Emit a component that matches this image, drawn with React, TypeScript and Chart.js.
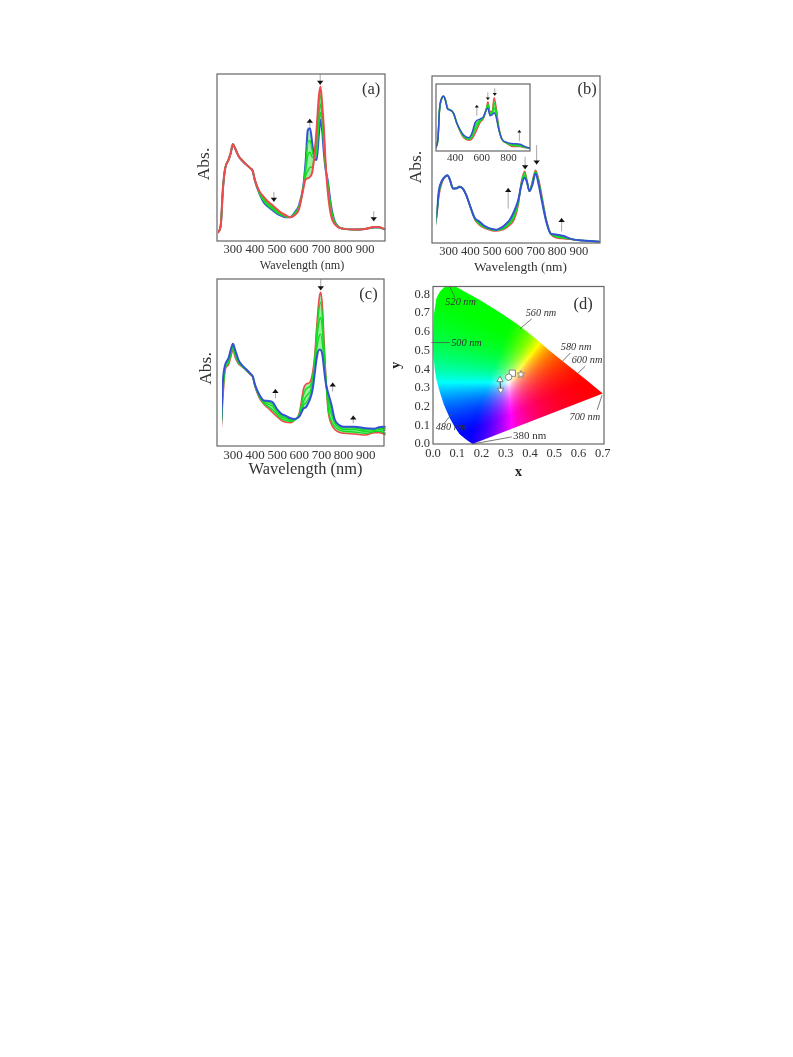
import React, { useEffect, useRef } from "react";
import Chart from "chart.js/auto";

const SERIF = "'Liberation Serif', serif";

// ---------- panel (a) ----------
const A_NM = [230,245,255,265,280,290,300,310,325,340,360,380,390,400,420,440,460,480,500,520,540,560,580,600,620,630,640,650,660,670,680,690,697,705,712,720,730,745,760,780,800,850,900,940,960,990];
const A_RED = [24,47,157,217,242,262,289,277,255,242,229,217,209,182,149,132,117,107,95,84,77,71,77,95,157,184,187,192,205,257,337,432,462,410,345,240,150,77,52,40,37,34,36,42,42,35];
const A_G1 = [24,47,157,217,242,262,289,277,255,242,229,217,209,182,147,128,113,102,90,81,75,71,79,98,160,194,210,220,222,255,320,410,435,390,330,235,160,85,55,41,37,34,36,41,41,35];
const A_G2 = [24,47,157,217,242,262,289,277,255,242,229,217,209,182,145,123,109,98,87,79,73,71,81,101,162,208,255,265,250,252,290,375,410,370,310,230,170,95,58,42,37,34,36,41,41,35];
const A_G3 = [24,47,157,217,242,262,289,277,255,242,229,217,209,182,143,119,105,95,84,77,72,71,83,104,165,222,295,300,270,250,265,345,385,350,290,222,176,100,60,42,37,34,36,40,40,35];
const A_BLUE = [24,47,157,217,242,262,289,277,255,242,229,217,209,180,142,115,102,92,82,75,71,71,85,107,167,237,332,337,292,247,242,317,362,330,270,217,182,107,62,42,37,34,36,40,40,35];
const A_ARROWS = [[486,147,117],[649,342,365],[696,499,467],[939,89,59]];

// ---------- panel (b) ----------
const B_NM = [225,235,245,255,270,285,295,305,320,335,350,365,380,400,420,440,460,480,500,520,540,560,580,600,620,635,650,660,672,685,700,715,730,750,770,800,830,860,900,950,995];
const B_RED = [5,38,83,143,183,198,201,190,163,165,170,163,145,108,71,55,46,41,37,36,38,43,53,68,113,183,215,188,155,183,218,188,138,68,28,15,13,11,8,6,4];
const B_G1 = [5,39,86,149,185,199,202,190,163,164,169,163,145,108,72,58,48,43,39,38,40,47,58,76,118,180,210,186,155,180,214,182,133,66,28,18,15,12,8,6,4];
const B_G2 = [5,41,90,154,187,200,202,190,163,164,168,163,145,108,74,62,51,45,41,39,43,51,63,85,123,176,202,184,155,176,211,177,128,64,28,22,18,13,8,6,4];
const B_BLUE = [5,43,93,158,188,200,203,190,163,163,168,163,145,108,75,65,53,46,42,40,45,55,68,93,128,173,195,183,155,173,208,173,123,63,28,25,21,13,8,6,4];
const B_ARROWS = [[574,103,165],[652,258,221],[705,293,235],[820,35,75]];

// ---------- inset of panel (b) ----------
const I_NM = [255,270,282,297,312,325,342,362,387,412,437,462,500,525,550,587,612,632,645,662,677,692,707,725,750,787,837,887,925,962];
const I_RED = [10,38,123,155,163,155,130,123,113,83,58,40,32,36,53,86,98,123,148,118,118,160,133,78,36,23,13,13,10,8];
const I_G1 = [10,38,125,156,164,154,128,123,113,83,60,43,35,42,64,90,100,123,141,113,114,145,122,73,36,24,16,15,11,8];
const I_G2 = [10,38,127,157,165,153,127,123,113,83,62,46,38,48,76,93,102,123,134,110,111,130,112,70,36,25,19,18,12,8];
const I_BLUE = [10,38,128,158,165,153,126,123,113,83,63,48,40,53,86,96,103,123,128,106,108,115,103,68,36,26,22,20,13,8];
const I_ARROWS = [[562,106,138],[645,176,153],[697,188,166],[882,30,63]];

// ---------- panel (c) ----------
const C_NM = A_NM;
const C_RED = [28,40,148,228,243,266,288,266,246,238,226,213,206,178,143,125,113,100,88,76,71,70,78,98,173,185,188,193,218,273,368,443,460,413,313,208,108,66,50,41,38,36,33,40,40,34];
const C_G1 = [32,44,160,232,248,272,293,272,249,239,227,214,207,179,146,128,118,108,94,81,76,73,78,95,155,170,175,180,205,262,350,415,430,385,295,205,115,75,58,48,44,42,38,43,44,38];
const C_G2 = [36,50,175,237,254,279,298,279,253,241,228,215,207,181,149,132,125,118,101,87,82,77,79,92,135,148,155,165,192,248,325,375,385,345,270,198,130,95,68,55,50,49,44,46,49,47];
const C_G3 = [40,55,188,240,259,284,303,284,256,242,229,216,208,182,151,135,131,125,106,92,86,80,80,90,123,130,140,152,180,232,295,330,335,305,250,192,145,110,75,60,55,54,49,50,53,53];
const C_BLUE = [43,58,198,243,263,288,306,288,258,243,230,216,208,183,153,136,135,131,110,96,90,83,81,88,113,116,128,143,168,218,268,288,288,270,230,188,160,125,80,63,58,58,53,52,56,58];
const C_ARROWS = [[492,143,171],[697,500,466],[751,163,190],[844,68,91]];

const MAIN_TICKS = [300,400,500,600,700,800,900];
const INSET_TICKS = [400,600,800];

// ---------- panel (d) ----------
const LOCUS_X = [.163,.135,.11,.09,.069,.045,.028,.015,.007,.002,.001,.002,.004,.014,.028,.045,.07,.095,.117,.2,.276,.35,.414,.48,.552,.63,.70,.163];
const LOCUS_Y = [0,.025,.052,.09,.139,.21,.278,.34,.4,.48,.55,.62,.696,.78,.815,.838,.848,.842,.826,.765,.704,.64,.574,.5,.426,.345,.27,0];
const D_XTICKS = [0,.1,.2,.3,.4,.5,.6,.7];
const D_YTICKS = [0,.1,.2,.3,.4,.5,.6,.7,.8];
const WL_LABELS = ["520 nm","560 nm","580 nm","600 nm","500 nm","480 nm","700 nm"];
const WL_LABEL_X = [.114,.445,.59,.635,.138,.074,.626];
const WL_LABEL_Y = [.76,.70,.516,.449,.54,.087,.145];
const LEADERS = [[.069,.843,.09,.786],[.359,.617,.407,.67],[.534,.443,.566,.487],[.594,.374,.628,.417],[-.007,.543,.069,.543],[.076,.16,.048,.113],[.697,.261,.677,.183],[.163,0,.325,.038]];
const POINT_X = { star: .362, square: .327, circle: .312, up: .276, down: .279 };
const POINT_Y = { star: .374, square: .379, circle: .358, up: .343, down: .289 };

const RED = "#ee4a4f";
const BLUE = "#3650d6";
const GREEN = "#12dc22";
const FILL = "rgba(70,232,80,0.55)";

function arrowPlugin(arrows: number[][], head: number, label: any, shift: number[]) {
  return {
    id: "marks",
    afterLayout(chart: any) {
      chart.scales.x.left += shift[0];
      chart.scales.x.right += shift[0];
      chart.scales.y.top += shift[1];
      chart.scales.y.bottom += shift[1];
    },
    afterDatasetsDraw(chart: any) {
      const { ctx, scales, chartArea: a } = chart;
      ctx.save();
      for (const [nm, from, to] of arrows) {
        const x = scales.x.getPixelForValue(nm);
        const y1 = scales.y.getPixelForValue(from);
        const y2 = scales.y.getPixelForValue(to);
        const dir = y2 > y1 ? 1 : -1;
        ctx.strokeStyle = "#a8a8a8";
        ctx.lineWidth = 1;
        ctx.beginPath();
        ctx.moveTo(x, y1);
        ctx.lineTo(x, y2);
        ctx.stroke();
        ctx.fillStyle = "#111";
        ctx.beginPath();
        ctx.moveTo(x, y2);
        ctx.lineTo(x - head * 0.8, y2 - dir * head);
        ctx.lineTo(x + head * 0.8, y2 - dir * head);
        ctx.closePath();
        ctx.fill();
      }
      if (label) {
        ctx.fillStyle = "#333";
        ctx.font = `16.5px ${SERIF}`;
        ctx.textAlign = "center";
        ctx.textBaseline = "middle";
        ctx.fillText(label.text, scales.x.getPixelForValue(label.x), scales.y.getPixelForValue(label.y));
      }
      ctx.strokeStyle = "#666";
      ctx.lineWidth = 1.2;
      ctx.strokeRect(a.left, a.top, a.right - a.left, a.bottom - a.top);
      ctx.restore();
    },
  };
}

function pts(xs: number[], ys: number[]) {
  return xs.map((x, i) => ({ x, y: ys[i] }));
}

function spectrum(canvas: HTMLCanvasElement, c: any) {
  const LM = 40, RM = 8, TM = 6, BM = 36;
  const w = c.box[2] - c.box[0], h = c.box[3] - c.box[1];
  canvas.width = Math.round(w + LM + RM);
  canvas.height = Math.round(h + TM + BM);
  canvas.style.left = c.box[0] - LM + "px";
  canvas.style.top = c.box[1] - TM + "px";
  const lines = c.order.map(([vals, color, lw]: any) => ({
    data: pts(c.nm, vals),
    borderColor: color,
    borderWidth: lw,
    showLine: true,
    pointRadius: 0,
    cubicInterpolationMode: "monotone",
    fill: false,
  }));
  lines[lines.length - 1].fill = { target: 0, above: FILL, below: FILL };
  const xTitle = c.xTitle;
  return new Chart(canvas, {
    type: "scatter",
    data: { datasets: lines },
    plugins: [arrowPlugin(c.arrows, c.head, c.label, c.shift || [0, 0])],
    options: {
      animation: false,
      responsive: false,
      devicePixelRatio: 1,
      layout: { padding: { top: TM, right: RM, left: 0, bottom: 0 } },
      plugins: { legend: { display: false }, tooltip: { enabled: false } },
      scales: {
        x: {
          type: "linear",
          min: c.xRange[0],
          max: c.xRange[1],
          afterBuildTicks: (s: any) => { s.ticks = c.ticks.map((value: number) => ({ value })); },
          afterFit: (s: any) => { s.height = BM; },
          grid: { display: false, drawTicks: false },
          border: { display: false },
          ticks: { color: "#333", padding: c.tickPad, maxRotation: 0, autoSkip: false, font: { family: SERIF, size: c.tickSize } },
          title: xTitle
            ? { display: true, text: xTitle.text, color: "#333", font: { family: SERIF, size: xTitle.size, weight: "normal" }, padding: { top: 0, bottom: BM - xTitle.dist - xTitle.size * 0.6 } }
            : { display: false },
        },
        y: {
          min: 0,
          max: c.yMax,
          afterFit: (s: any) => { s.width = LM; },
          grid: { display: false, drawTicks: false },
          border: { display: false },
          ticks: { display: false },
          title: c.yTitleDist
            ? { display: true, text: "Abs.", color: "#333", font: { family: SERIF, size: 17.5, weight: "normal" }, padding: { top: LM - c.yTitleDist - 10.5, bottom: 0 } }
            : { display: false },
        },
      },
    } as any,
  });
}

function chroma(x: number, y: number) {
  if (y <= 0) return [0, 0, 255];
  const X = x / y, Y = 1, Z = (1 - x - y) / y;
  let r = 3.2406 * X - 1.5372 * Y - 0.4986 * Z;
  let g = -0.9689 * X + 1.8758 * Y + 0.0415 * Z;
  let b = 0.0557 * X - 0.204 * Y + 1.057 * Z;
  r = Math.max(r, 0); g = Math.max(g, 0); b = Math.max(b, 0);
  const m = Math.max(r, g, b, 1e-6);
  const f = (v: number) => 255 * Math.pow(v / m, 1.2);
  return [f(r), f(g), f(b)];
}

function starImage() {
  const c = document.createElement("canvas");
  c.width = 10; c.height = 10;
  const ctx = c.getContext("2d")!;
  ctx.beginPath();
  for (let i = 0; i < 10; i++) {
    const r = i % 2 ? 1.7 : 4;
    const t = -Math.PI / 2 + (i * Math.PI) / 5;
    ctx.lineTo(5 + r * Math.cos(t), 5.3 + r * Math.sin(t));
  }
  ctx.closePath();
  ctx.fillStyle = "#fff";
  ctx.fill();
  ctx.strokeStyle = "#777";
  ctx.lineWidth = 0.8;
  ctx.stroke();
  return c;
}

const gamutPlugin = {
  id: "gamut",
  beforeDatasetsDraw(chart: any) {
    const { ctx, scales, chartArea: a } = chart;
    const w = Math.ceil(a.right - a.left), h = Math.ceil(a.bottom - a.top);
    const off = document.createElement("canvas");
    off.width = w; off.height = h;
    const octx = off.getContext("2d")!;
    const img = octx.createImageData(w, h);
    for (let j = 0; j < h; j++) {
      const yv = scales.y.getValueForPixel(a.top + j + 0.5);
      for (let i = 0; i < w; i++) {
        const xv = scales.x.getValueForPixel(a.left + i + 0.5);
        const [r, g, b] = chroma(xv, yv);
        const k = (j * w + i) * 4;
        img.data[k] = r; img.data[k + 1] = g; img.data[k + 2] = b; img.data[k + 3] = 255;
      }
    }
    octx.putImageData(img, 0, 0);
    ctx.save();
    ctx.beginPath();
    ctx.rect(a.left, a.top, a.right - a.left, a.bottom - a.top);
    ctx.clip();
    ctx.beginPath();
    LOCUS_X.forEach((x, i) => {
      ctx.lineTo(scales.x.getPixelForValue(x), scales.y.getPixelForValue(LOCUS_Y[i]));
    });
    ctx.closePath();
    ctx.clip();
    ctx.drawImage(off, a.left, a.top);
    ctx.restore();
  },
  afterDatasetsDraw(chart: any) {
    const { ctx, scales, chartArea: a } = chart;
    const px = (v: number) => scales.x.getPixelForValue(v);
    const py = (v: number) => scales.y.getPixelForValue(v);
    ctx.save();
    ctx.strokeStyle = "#555";
    ctx.lineWidth = 0.8;
    for (const [x1, y1, x2, y2] of LEADERS) {
      ctx.beginPath();
      ctx.moveTo(px(x1), py(y1));
      ctx.lineTo(px(x2), py(y2));
      ctx.stroke();
    }
    ctx.fillStyle = "#333";
    ctx.textAlign = "center";
    ctx.textBaseline = "middle";
    ctx.font = `italic 10.3px ${SERIF}`;
    WL_LABELS.forEach((t, i) => ctx.fillText(t, px(WL_LABEL_X[i]), py(WL_LABEL_Y[i])));
    ctx.font = `11px ${SERIF}`;
    ctx.fillText("380 nm", px(.398), py(.04));
    ctx.font = `16.5px ${SERIF}`;
    ctx.fillText("(d)", px(.619), py(.744));
    ctx.strokeStyle = "#666";
    ctx.lineWidth = 1.2;
    ctx.strokeRect(a.left, a.top, a.right - a.left, a.bottom - a.top);
    ctx.restore();
  },
};

function gamut(canvas: HTMLCanvasElement) {
  const box = [433.3, 281.7, 604, 443.3];
  const LM = 46, RM = 10, TM = 6, BM = 38;
  canvas.width = Math.round(box[2] - box[0] + LM + RM);
  canvas.height = Math.round(box[3] - box[1] + TM + BM);
  canvas.style.left = box[0] - LM + "px";
  canvas.style.top = box[1] - TM + "px";
  const marker = (k: "square" | "circle" | "up" | "down" | "star", style: any, radius: number, rotation = 0) => ({
    data: [{ x: POINT_X[k], y: POINT_Y[k] }],
    pointStyle: style,
    rotation,
    pointRadius: radius,
    pointBackgroundColor: "#fff",
    pointBorderColor: "#777",
    pointBorderWidth: 0.9,
  });
  return new Chart(canvas, {
    type: "scatter",
    plugins: [gamutPlugin],
    data: {
      datasets: [
        marker("star", starImage(), 4),
        marker("circle", "circle", 3.2),
        marker("square", "rect", 4.4),
        marker("up", "triangle", 3.6),
        marker("down", "triangle", 3.6, 180),
        {
          data: [{ x: POINT_X.up, y: POINT_Y.up }, { x: POINT_X.down, y: POINT_Y.down }],
          showLine: true,
          borderColor: "#444",
          borderWidth: 1,
          pointRadius: 0,
        },
      ],
    },
    options: {
      animation: false,
      responsive: false,
      devicePixelRatio: 1,
      layout: { padding: { top: TM, right: RM, left: 0, bottom: 0 } },
      plugins: { legend: { display: false }, tooltip: { enabled: false } },
      scales: {
        x: {
          type: "linear",
          min: 0,
          max: .705,
          afterBuildTicks: (s: any) => { s.ticks = D_XTICKS.map((value) => ({ value })); },
          afterFit: (s: any) => { s.height = BM; },
          grid: { display: false, drawTicks: false },
          border: { display: false },
          ticks: { color: "#333", padding: 2, maxRotation: 0, autoSkip: false, font: { family: SERIF, size: 12.5 }, callback: (v: number) => v.toFixed(1) },
          title: { display: true, text: "x", color: "#222", font: { family: SERIF, size: 14, weight: "bold" }, padding: { top: 0, bottom: 1 } },
        },
        y: {
          min: 0,
          max: .843,
          afterBuildTicks: (s: any) => { s.ticks = D_YTICKS.map((value) => ({ value })); },
          afterFit: (s: any) => { s.width = LM; },
          grid: { display: false, drawTicks: false },
          border: { display: false },
          ticks: { color: "#333", padding: 3, autoSkip: false, font: { family: SERIF, size: 12.5 }, callback: (v: number) => v.toFixed(1) },
          title: { display: true, text: "y", color: "#222", font: { family: SERIF, size: 14, weight: "bold" }, padding: { top: 1, bottom: 0 } },
        },
      },
    } as any,
  });
}

const canvasStyle: React.CSSProperties = { position: "absolute", filter: "blur(0.7px)" };

export default function App() {
  const a = useRef<HTMLCanvasElement>(null);
  const b = useRef<HTMLCanvasElement>(null);
  const inset = useRef<HTMLCanvasElement>(null);
  const c = useRef<HTMLCanvasElement>(null);
  const d = useRef<HTMLCanvasElement>(null);

  useEffect(() => {
    const charts = [
      spectrum(a.current!, {
        box: [216.7, 74.3, 385, 241], nm: A_NM, xRange: [228, 990], yMax: 499, ticks: MAIN_TICKS,
        order: [[A_RED, RED, 2], [A_G1, GREEN, 1.4], [A_G2, GREEN, 1.4], [A_G3, GREEN, 1.4], [A_BLUE, BLUE, 2]],
        arrows: A_ARROWS, head: 4, label: { text: "(a)", x: 927, y: 452 }, tickSize: 12.5, tickPad: 1.5,
        xTitle: { text: "Wavelength (nm)", size: 12.2, dist: 25 }, yTitleDist: 13, shift: [1, 6.5],
      }),
      spectrum(b.current!, {
        box: [431.7, 76, 599.3, 242.7], nm: B_NM, xRange: [223, 997], yMax: 500, ticks: MAIN_TICKS,
        order: [[B_BLUE, BLUE, 2], [B_G2, GREEN, 1.5], [B_G1, GREEN, 1.5], [B_RED, RED, 1.6]],
        arrows: B_ARROWS, head: 4, label: { text: "(b)", x: 938, y: 458 }, tickSize: 12.5, tickPad: 1.5,
        xTitle: { text: "Wavelength (nm)", size: 13.4, dist: 24.3 }, yTitleDist: 16, shift: [4.5, 7.7],
      }),
      spectrum(inset.current!, {
        box: [435.7, 84, 530, 151], nm: I_NM, xRange: [255, 962], yMax: 201, ticks: INSET_TICKS,
        order: [[I_BLUE, BLUE, 1.5], [I_G2, GREEN, 1.4], [I_G1, GREEN, 1.4], [I_RED, RED, 1.4]],
        arrows: I_ARROWS, head: 2.6, tickSize: 11, tickPad: 1,
      }),
      spectrum(c.current!, {
        box: [216.7, 279.3, 384, 446], nm: C_NM, xRange: [228, 983], yMax: 500, ticks: MAIN_TICKS,
        order: [[C_BLUE, BLUE, 2], [C_G3, GREEN, 1.4], [C_G2, GREEN, 1.4], [C_G1, GREEN, 1.4], [C_RED, RED, 1.6]],
        arrows: C_ARROWS, head: 4, label: { text: "(c)", x: 913, y: 453 }, tickSize: 13, tickPad: 1.5,
        xTitle: { text: "Wavelength (nm)", size: 16.4, dist: 24 }, yTitleDist: 11, shift: [5, 6],
      }),
      gamut(d.current!),
    ];
    return () => charts.forEach((ch) => ch.destroy());
  }, []);

  return (
    <div>
      <canvas ref={a} style={canvasStyle} />
      <canvas ref={b} style={canvasStyle} />
      <canvas ref={c} style={canvasStyle} />
      <canvas ref={d} style={canvasStyle} />
      <canvas ref={inset} style={canvasStyle} />
    </div>
  );
}
